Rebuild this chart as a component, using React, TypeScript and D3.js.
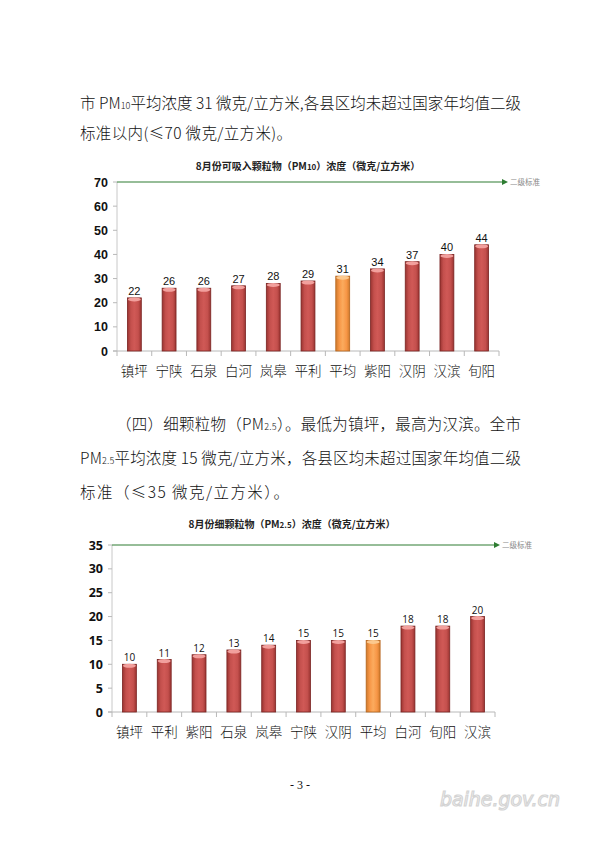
import React, { useEffect, useRef } from "react";
import * as d3 from "d3";

// PM10 chart data
const pm10Cities = ["镇坪", "宁陕", "石泉", "白河", "岚皋", "平利", "平均", "紫阳", "汉阴", "汉滨", "旬阳"];
const pm10Values = [22, 26, 26, 27, 28, 29, 31, 34, 37, 40, 44];
const pm10Ticks = [0, 10, 20, 30, 40, 50, 60, 70];

// PM2.5 chart data
const pm25Cities = ["镇坪", "平利", "紫阳", "石泉", "岚皋", "宁陕", "汉阴", "平均", "白河", "旬阳", "汉滨"];
const pm25Values = [10, 11, 12, 13, 14, 15, 15, 15, 18, 18, 20];
const pm25Ticks = [0, 5, 10, 15, 20, 25, 30, 35];

const CJK = "'Noto Sans CJK SC', sans-serif";

interface ChartCfg {
  id: string;
  cities: string[];
  values: number[];
  ticks: number[];
  max: number;
  left: number;
  right: number;
  top: number;
  bottom: number;
  title: string;
  titleSub: string;
  titleX: number;
  titleY: number;
  tickFont: string;
  valueSize: number;
  arrowX: number;
}

function drawChart(svg: d3.Selection<SVGSVGElement, unknown, null, undefined>, c: ChartCfg) {
  const x = d3.scaleBand<string>().domain(c.cities).range([c.left, c.right]).paddingInner(0.6).paddingOuter(0.3);
  const band = d3.scaleBand<string>().domain(c.cities).range([c.left, c.right]);
  const y = d3.scaleLinear().domain([0, c.max]).range([c.bottom, c.top]);
  const g = svg.append("g");

  // title
  const t = g
    .append("text")
    .attr("x", c.titleX)
    .attr("y", c.titleY)
    .attr("text-anchor", "middle")
    .style("font-family", CJK)
    .style("font-size", "10px")
    .style("font-weight", "bold")
    .attr("fill", "#222");
  t.append("tspan").text(c.title);
  t.append("tspan").text(c.titleSub).style("font-size", "8px");
  t.append("tspan").text("）浓度（微克/立方米）");

  // axes
  g.append("line")
    .attr("x1", c.left).attr("x2", c.left)
    .attr("y1", c.top).attr("y2", c.bottom)
    .attr("stroke", "#c8c8c8");
  g.append("line")
    .attr("x1", c.left - 4).attr("x2", c.right)
    .attr("y1", c.bottom).attr("y2", c.bottom)
    .attr("stroke", "#b8b8b8");

  c.ticks.forEach((v) => {
    g.append("line")
      .attr("x1", c.left - 4).attr("x2", c.left)
      .attr("y1", y(v)).attr("y2", y(v))
      .attr("stroke", "#b8b8b8");
    g.append("text")
      .attr("x", c.left - 9)
      .attr("y", y(v) + 4.5)
      .attr("text-anchor", "end")
      .style("font-family", c.tickFont)
      .style("font-size", "12.5px")
      .style("font-weight", "bold")
      .attr("fill", "#111")
      .text(v);
  });

  // x ticks at category boundaries
  const edges = c.cities.map((d) => band(d) as number).concat([c.right]);
  edges.forEach((bx) => {
    g.append("line")
      .attr("x1", bx).attr("x2", bx)
      .attr("y1", c.bottom).attr("y2", c.bottom + 5)
      .attr("stroke", "#b8b8b8");
  });

  // x labels
  g.selectAll("xlab")
    .data(c.cities)
    .join("text")
    .attr("x", (d) => (band(d) as number) + band.bandwidth() / 2)
    .attr("y", c.bottom + 25)
    .attr("text-anchor", "middle")
    .style("font-family", CJK)
    .style("font-size", "13.5px")
    .style("font-weight", "300")
    .attr("fill", "#111")
    .text((d) => d);

  // standard line
  g.append("line")
    .attr("x1", c.left).attr("x2", c.arrowX - 5)
    .attr("y1", y(c.max)).attr("y2", y(c.max))
    .attr("stroke", "#2e7d32")
    .attr("stroke-width", 1.2);
  g.append("path")
    .attr("d", `M${c.arrowX - 6},${y(c.max) - 3}L${c.arrowX},${y(c.max)}L${c.arrowX - 6},${y(c.max) + 3}Z`)
    .attr("fill", "#2e7d32");
  g.append("text")
    .attr("x", c.arrowX + 2)
    .attr("y", y(c.max) + 3)
    .style("font-family", CJK)
    .style("font-size", "7.5px")
    .attr("fill", "#888")
    .text("二级标准");

  // bars
  const bw = x.bandwidth();
  const bars = g
    .selectAll("bar")
    .data(c.values.map((v, i) => ({ city: c.cities[i], v })))
    .join("g");
  bars
    .append("rect")
    .attr("x", (d) => x(d.city) as number)
    .attr("y", (d) => y(d.v))
    .attr("width", bw)
    .attr("height", (d) => c.bottom - y(d.v))
    .attr("fill", (d) => (d.city === "平均" ? `url(#${c.id}-o)` : `url(#${c.id}-r)`))
    .attr("stroke", (d) => (d.city === "平均" ? "#b5651d" : "#7a2422"))
    .attr("stroke-width", 0.8);
  bars
    .append("ellipse")
    .attr("cx", (d) => (x(d.city) as number) + bw / 2)
    .attr("cy", (d) => y(d.v) + 1.5)
    .attr("rx", bw / 2 - 0.5)
    .attr("ry", 2)
    .attr("fill", (d) => (d.city === "平均" ? "#fcc98e" : "#f2a09d"));
  bars
    .append("text")
    .attr("x", (d) => (x(d.city) as number) + bw / 2)
    .attr("y", (d) => y(d.v) - 3)
    .attr("text-anchor", "middle")
    .style("font-family", c.tickFont)
    .style("font-size", `${c.valueSize}px`)
    .attr("fill", "#111")
    .text((d) => d.v);
}

function addGradient(defs: any, id: string, edge: string, mid: string, light: string) {
  const lg = defs.append("linearGradient").attr("id", id).attr("x1", "0").attr("x2", "1").attr("y1", "0").attr("y2", "0");
  lg.append("stop").attr("offset", "0%").attr("stop-color", edge);
  lg.append("stop").attr("offset", "25%").attr("stop-color", mid);
  lg.append("stop").attr("offset", "50%").attr("stop-color", light);
  lg.append("stop").attr("offset", "78%").attr("stop-color", mid);
  lg.append("stop").attr("offset", "100%").attr("stop-color", edge);
}

export default function App() {
  const svgRef = useRef<SVGSVGElement>(null);

  useEffect(() => {
    const svg = d3.select(svgRef.current);
    svg.selectAll("*").remove();

    const defs = svg.append("defs");
    ["c1", "c2"].forEach((id) => {
      addGradient(defs, `${id}-r`, "#9a3431", "#c4504d", "#d05956");
      addGradient(defs, `${id}-o`, "#cf7a2c", "#f79646", "#fbab5e");
    });

    svg.append("rect").attr("width", 600).attr("height", 848).attr("fill", "#fff");

    const body = (yy: number, x0: number, x1: number, parts: [string, boolean][]) => {
      const t = svg
        .append("text")
        .attr("x", x0)
        .attr("y", yy)
        .attr("textLength", x1 - x0)
        .attr("lengthAdjust", "spacing")
        .style("font-family", CJK)
        .style("font-size", "15.5px")
        .style("font-weight", "300")
        .attr("fill", "#111");
      parts.forEach(([s, sub]) => {
        t.append("tspan").text(s).style("font-size", sub ? "9px" : "15.5px");
      });
    };

    body(109, 80, 521, [["市 PM", false], ["10", true], ["平均浓度 31 微克/立方米,各县区均未超过国家年均值二级", false]]);
    body(139, 80, 292, [["标准以内(≤70 微克/立方米)。", false]]);

    body(430, 116, 521, [["（四）细颗粒物（PM", false], ["2.5", true], ["）。最低为镇坪，最高为汉滨。全市", false]]);
    body(464, 80, 521, [["PM", false], ["2.5", true], ["平均浓度 15 微克/立方米，各县区均未超过国家年均值二级", false]]);
    body(498, 80, 289, [["标准（≤35 微克/立方米）。", false]]);

    drawChart(svg as any, {
      id: "c1",
      cities: pm10Cities,
      values: pm10Values,
      ticks: pm10Ticks,
      max: 70,
      left: 117,
      right: 499,
      top: 182,
      bottom: 351,
      title: "8月份可吸入颗粒物（PM",
      titleSub: "10",
      titleX: 308,
      titleY: 170,
      tickFont: "'Liberation Sans', Arial, sans-serif",
      valueSize: 11,
      arrowX: 508,
    });

    drawChart(svg as any, {
      id: "c2",
      cities: pm25Cities,
      values: pm25Values,
      ticks: pm25Ticks,
      max: 35,
      left: 112,
      right: 495,
      top: 545,
      bottom: 712,
      title: "8月份细颗粒物（PM",
      titleSub: "2.5",
      titleX: 292,
      titleY: 528,
      tickFont: "'Open Sans', 'DejaVu Sans', sans-serif",
      valueSize: 10,
      arrowX: 500,
    });

    svg
      .append("text")
      .attr("x", 300)
      .attr("y", 789)
      .attr("text-anchor", "middle")
      .style("font-family", "'Liberation Serif', serif")
      .style("font-size", "12px")
      .attr("fill", "#111")
      .text("- 3 -");

    svg
      .append("text")
      .attr("x", 440)
      .attr("y", 806)
      .attr("textLength", 120)
      .style("font-family", "'DejaVu Sans', sans-serif")
      .style("font-size", "19px")
      .style("font-style", "italic")
      .attr("fill", "#fff")
      .attr("stroke", "#d4d4d4")
      .attr("stroke-width", 1.2)
      .text("baihe.gov.cn");
  }, []);

  return (
    <svg
      ref={svgRef}
      width={600}
      height={848}
      style={{ position: "absolute", left: 0, top: 0 }}
    ></svg>
  );
}
